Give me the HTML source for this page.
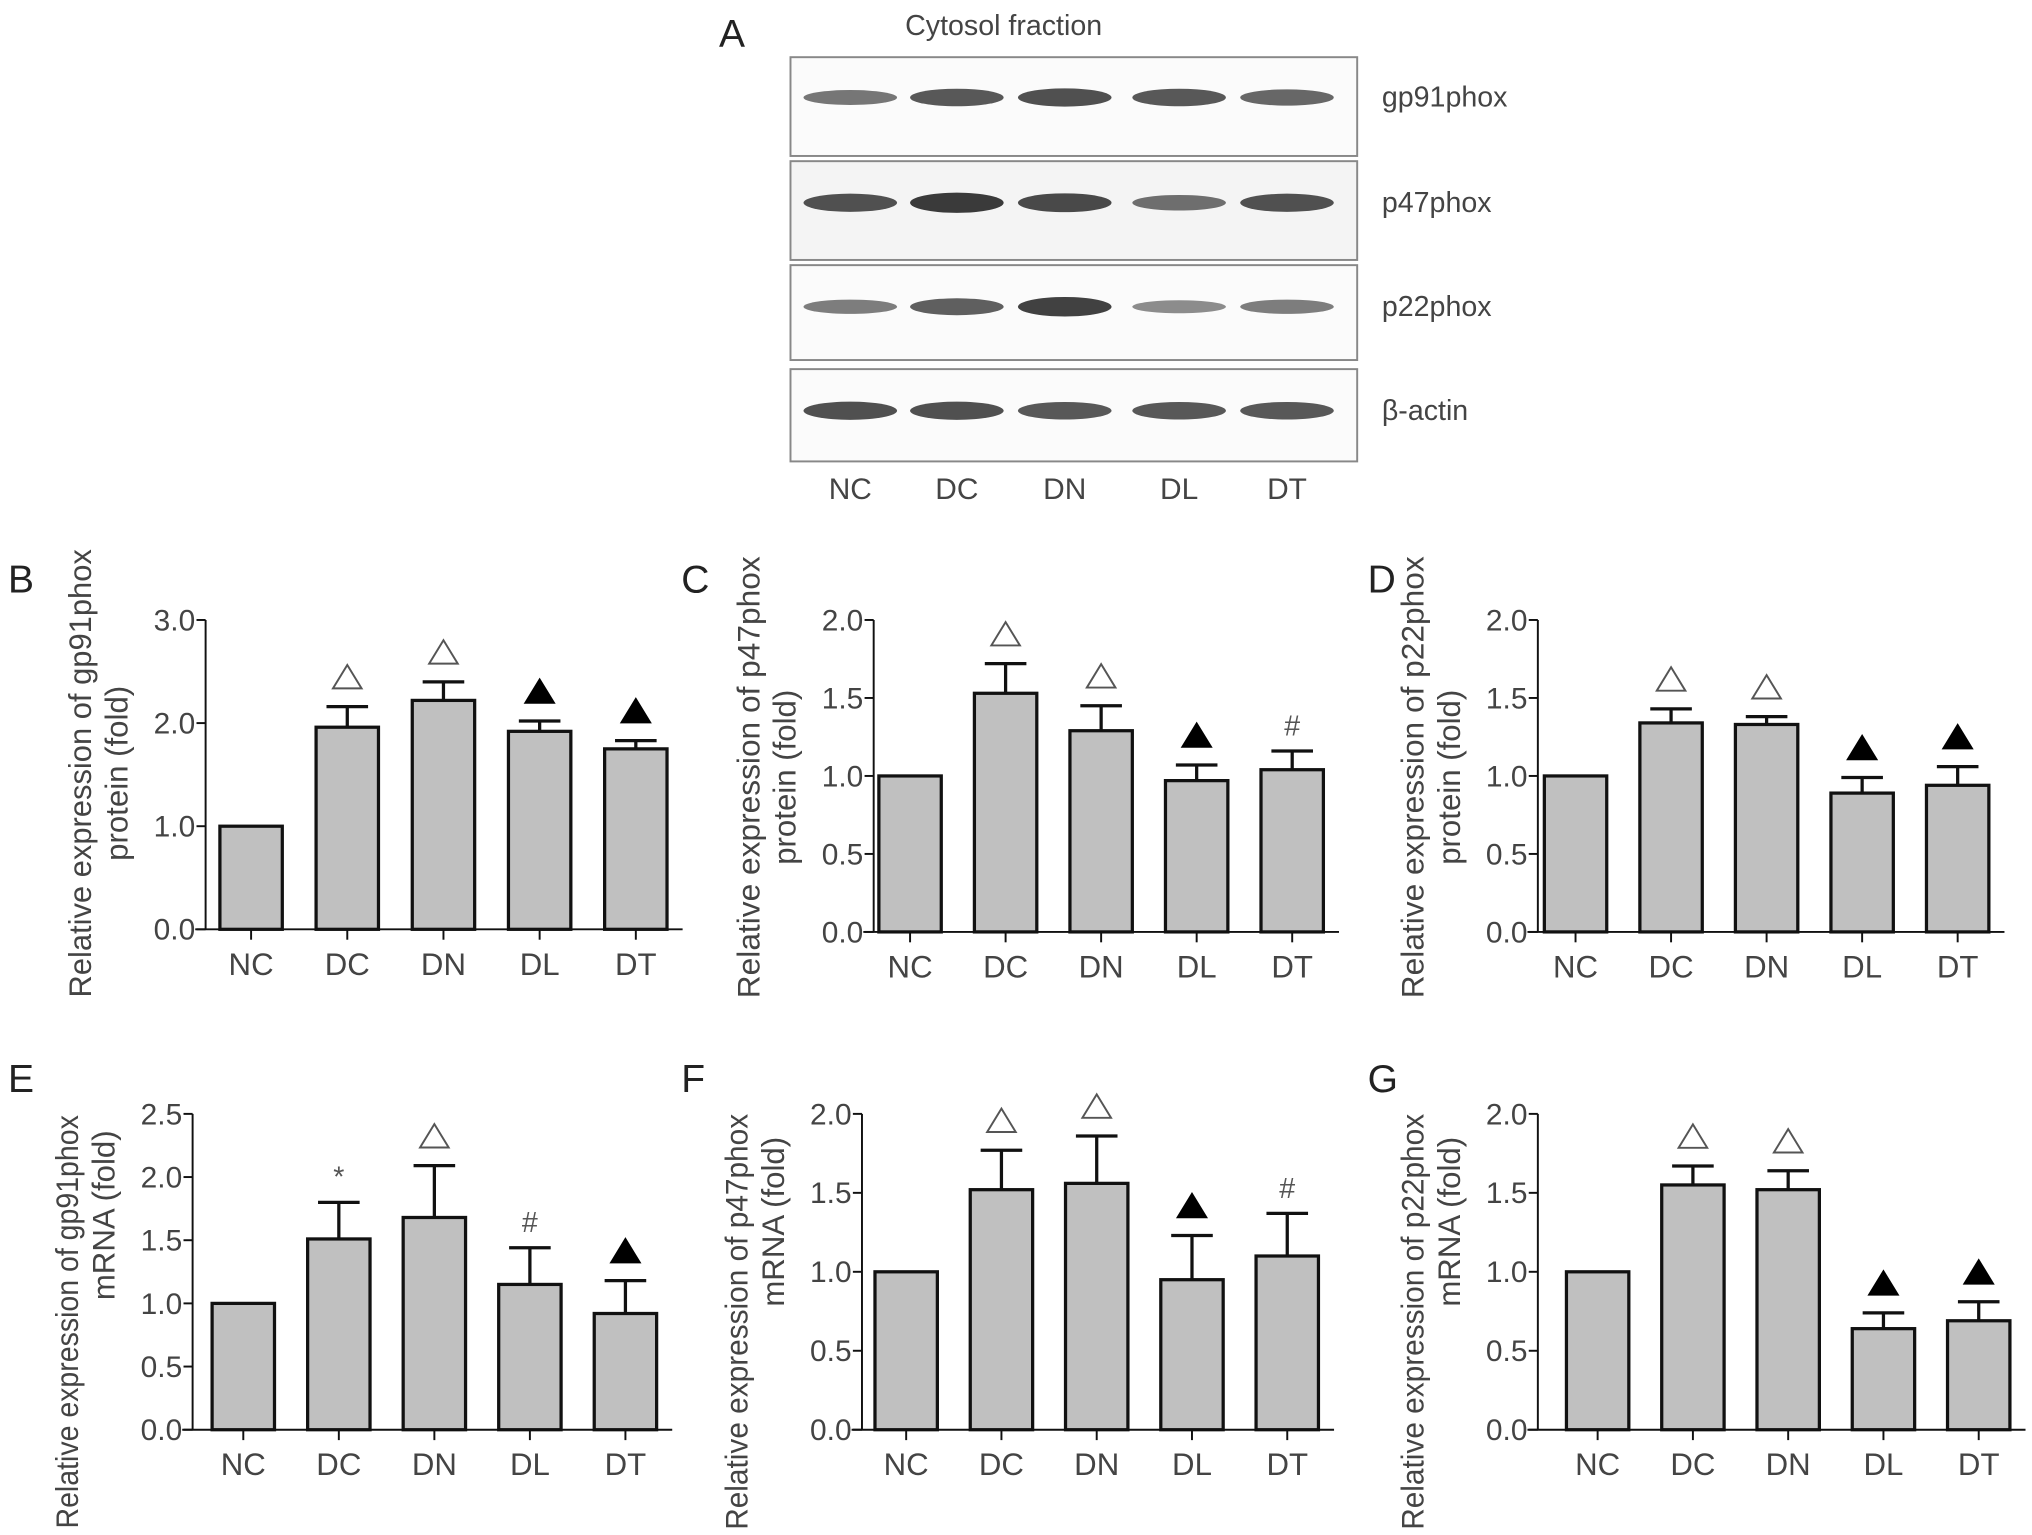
<!DOCTYPE html>
<html><head><meta charset="utf-8"><style>
html,body{margin:0;padding:0;background:#fff;}
svg{display:block;font-family:"Liberation Sans",sans-serif;}
</style></head><body>
<svg id="fig" width="2032" height="1535" viewBox="0 0 1563 1181" xmlns="http://www.w3.org/2000/svg">
<g>
<text x="553" y="36" font-size="30" fill="#222">A</text>
<text x="772" y="27" font-size="22" fill="#444" text-anchor="middle">Cytosol fraction</text>
<g id="blots"></g>
</g>
<g id="charts"></g>
</svg>
<script>
const groups = ["NC","DC","DN","DL","DT"];
const bMeans = [1.0,1.96,2.22,1.92,1.75];
const bErr = [0,0.2,0.18,0.1,0.08];
const bMarks = ["","open","open","filled","filled"];
const cMeans = [1.0,1.53,1.29,0.97,1.04];
const cErr = [0,0.19,0.16,0.1,0.12];
const cMarks = ["","open","open","filled","hash"];
const dMeans = [1.0,1.34,1.33,0.89,0.94];
const dErr = [0,0.09,0.05,0.1,0.12];
const dMarks = ["","open","open","filled","filled"];
const eMeans = [1.0,1.51,1.68,1.15,0.92];
const eErr = [0,0.29,0.41,0.29,0.26];
const eMarks = ["","star","open","hash","filled"];
const fMeans = [1.0,1.52,1.56,0.95,1.1];
const fErr = [0,0.25,0.3,0.28,0.27];
const fMarks = ["","open","open","filled","hash"];
const gMeans = [1.0,1.55,1.52,0.64,0.69];
const gErr = [0,0.12,0.12,0.1,0.12];
const gMarks = ["","open","open","filled","filled"];
const ticks3 = [0,1,2,3];
const ticks2 = [0,0.5,1,1.5,2];
const ticks25 = [0,0.5,1,1.5,2,2.5];
const blotNames = ["gp91phox","p47phox","p22phox","β-actin"];
const blotIntensity = [[0.55,0.75,0.8,0.75,0.65],[0.8,0.95,0.85,0.6,0.8],[0.5,0.7,0.9,0.4,0.5],[0.8,0.8,0.75,0.75,0.75]];

const NS="http://www.w3.org/2000/svg";
function mk(tag,attrs,parent){const e=document.createElementNS(NS,tag);for(const k in attrs)e.setAttribute(k,attrs[k]);parent.appendChild(e);return e;}

const blots=document.getElementById('blots');
const boxes=[[44,120],[124,200],[204,277],[284,355]];
const laneX=[654,736,819,907,990];
const bandY=[75,156,236,316];
blotNames.forEach((n,i)=>{
  const r=mk('rect',{x:608,y:boxes[i][0],width:436,height:boxes[i][1]-boxes[i][0],fill:i==1?'#f4f4f4':'#fbfbfb',stroke:'#888','stroke-width':1.5},blots);
  
  
  groups.forEach((g,j)=>{
    const v=blotIntensity[i][j];
    const c=Math.round(200-150*v);
    const el=mk('ellipse',{cx:laneX[j],cy:bandY[i],rx:36,ry:3+5*v,fill:`rgb(${c},${c},${c})`},blots);
    
    
  });
  const t=mk('text',{x:1063,y:bandY[i]+7,'font-size':22,fill:'#444'},blots);
  t.textContent=n;
  
  
});
groups.forEach((g,j)=>{
  const t=mk('text',{x:laneX[j],y:384,'font-size':23,fill:'#444','text-anchor':'middle'},blots);
  t.textContent=g;
  
  
});

const charts=document.getElementById('charts');
function chart(cfg){
  const g=mk('g',{},charts);
  
  
  const {ax,y0,yTop,max,x0,step,means,err,marks,ticks}=cfg;
  const Y=v=>y0-(v/max)*(y0-yTop);
  const X=i=>x0+i*step;
  const L=mk('text',{x:cfg.lx,y:cfg.ly,'font-size':30,fill:'#222'},g);
  L.textContent=cfg.id.toUpperCase();
  
  
  const t1=mk('text',{x:0,y:0,'font-size':24,fill:'#444','text-anchor':'middle',textLength:cfg.len1,lengthAdjust:'spacingAndGlyphs',transform:`translate(${ax-88},${cfg.titleY}) rotate(-90)`},g);
  t1.textContent=cfg.t1;
  
  
  const t2=mk('text',{x:0,y:0,'font-size':24,fill:'#444','text-anchor':'middle',transform:`translate(${ax-60},${cfg.titleY2}) rotate(-90)`},g);
  t2.textContent=cfg.t2;
  
  
  means.forEach((m,i)=>{
    const cx=X(i),w=48;
    const r=mk('rect',{x:cx-w/2,y:Y(m),width:w,height:y0-Y(m),fill:'#c0c0c0',stroke:'#111','stroke-width':2.5},g);
    
    
    let top=Y(m);
    if(err[i]>0){
      top=Y(m+err[i]);
      const e=mk('path',{d:`M${cx} ${Y(m)}V${top}M${cx-16} ${top}H${cx+16}`,stroke:'#111','stroke-width':2.5,fill:'none'},g);
      
      
    }
    const my=top-14;
    if(marks[i]=='open'||marks[i]=='filled'){
      const p=mk('path',{d:`M${cx-11} ${my}L${cx} ${my-18}L${cx+11} ${my}Z`,fill:marks[i]=='filled'?'#000':'#fff',stroke:marks[i]=='filled'?'#000':'#555','stroke-width':1.5},g);
      
      
    } else if(marks[i]){
      const s=mk('text',{x:cx,y:my+2,'font-size':22,fill:'#555','text-anchor':'middle'},g);
      s.textContent=marks[i]=='hash'?'#':'*';
      
      
    }
    const tk=mk('line',{x1:cx,x2:cx,y1:y0,y2:y0+8,stroke:'#111','stroke-width':1.5},g);
    
    
    const tl=mk('text',{x:cx,y:y0+35,'font-size':24,fill:'#444','text-anchor':'middle'},g);
    tl.textContent=groups[i];
    
    
  });
  const a=mk('path',{d:`M${ax} ${yTop}V${y0}M${ax-8} ${y0}H${X(4)+36}`,stroke:'#111','stroke-width':1.5,fill:'none'},g);
  
  
  ticks.forEach(v=>{
    const l=mk('line',{x1:ax-7,x2:ax,y1:Y(v),y2:Y(v),stroke:'#111','stroke-width':1.5},g);
    
    
    const t=mk('text',{x:ax-8,y:Y(v)+8,'font-size':23,fill:'#444','text-anchor':'end'},g);
    t.textContent=v.toFixed(1);
    
    
  });
}
chart({id:'b',ax:158,y0:715,yTop:477,max:3,x0:193,step:74,means:bMeans,err:bErr,marks:bMarks,ticks:ticks3,lx:6,ly:456,t1:'Relative expression of gp91phox',t2:'protein (fold)',titleY:595,titleY2:595,len1:345});
chart({id:'c',ax:672,y0:717,yTop:477,max:2,x0:700,step:73.5,means:cMeans,err:cErr,marks:cMarks,ticks:ticks2,lx:524,ly:456,t1:'Relative expression of p47phox',t2:'protein (fold)',titleY:598,titleY2:598,len1:340});
chart({id:'d',ax:1183,y0:717,yTop:477,max:2,x0:1212,step:73.5,means:dMeans,err:dErr,marks:dMarks,ticks:ticks2,lx:1052,ly:456,t1:'Relative expression of p22phox',t2:'protein (fold)',titleY:598,titleY2:598,len1:340});
chart({id:'e',ax:148,y0:1100,yTop:857,max:2.5,x0:187,step:73.5,means:eMeans,err:eErr,marks:eMarks,ticks:ticks25,lx:6,ly:840,t1:'Relative expression of gp91phox',t2:'mRNA (fold)',titleY:1017,titleY2:935,len1:318});
chart({id:'f',ax:663,y0:1100,yTop:857,max:2,x0:697,step:73.3,means:fMeans,err:fErr,marks:fMarks,ticks:ticks2,lx:524,ly:840,t1:'Relative expression of p47phox',t2:'mRNA (fold)',titleY:1017,titleY2:940,len1:320});
chart({id:'g',ax:1183,y0:1100,yTop:857,max:2,x0:1229,step:73.3,means:gMeans,err:gErr,marks:gMarks,ticks:ticks2,lx:1052,ly:840,t1:'Relative expression of p22phox',t2:'mRNA (fold)',titleY:1017,titleY2:940,len1:320});
</script>
</body></html>
